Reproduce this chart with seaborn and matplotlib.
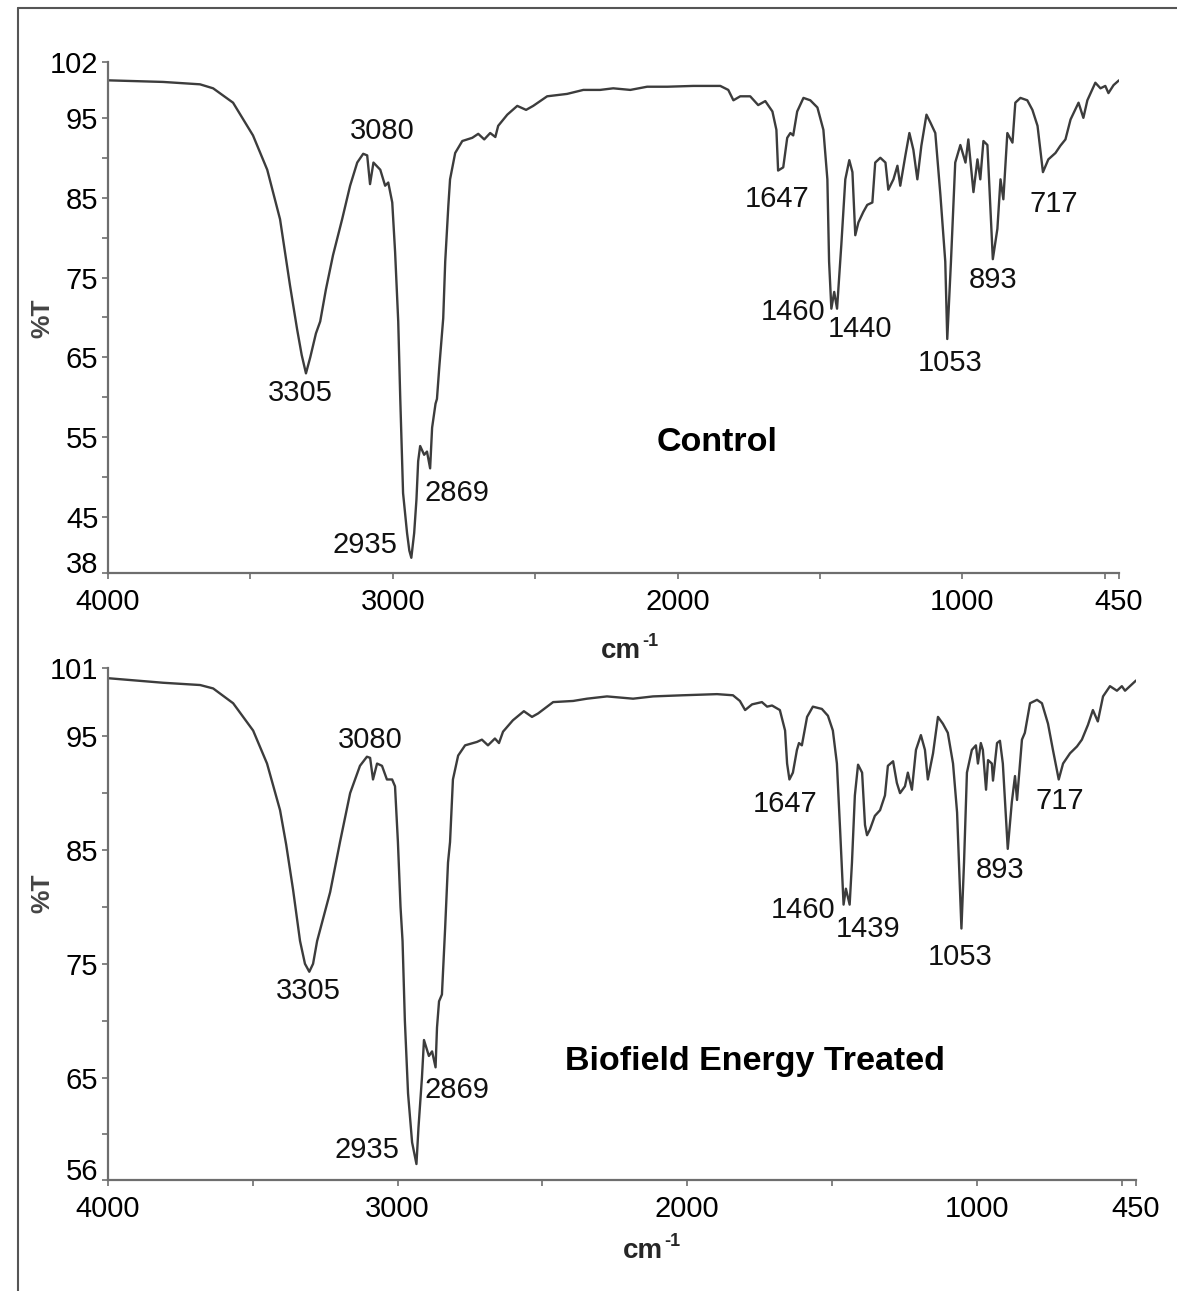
import matplotlib
matplotlib.use("Agg")
import matplotlib.pyplot as plt
import pandas as pd
import seaborn as sns
from matplotlib.lines import Line2D
from matplotlib.ticker import FixedLocator

# --- Control spectrum: wavenumber (cm-1) and %T
control_wn = [4000, 3807, 3677, 3631, 3561, 3491, 3441, 3396, 3361, 3336, 3320, 3305,
              3290, 3270, 3255, 3235, 3210, 3178, 3150, 3125, 3104, 3090, 3080, 3068,
              3044, 3027, 3016, 3002, 2992, 2981, 2974, 2964, 2950, 2942, 2935, 2925,
              2917, 2911, 2904, 2890, 2880, 2869, 2862, 2850, 2845, 2837, 2823, 2816,
              2805, 2799, 2781, 2756, 2721, 2700, 2679, 2658, 2640, 2630, 2598, 2563,
              2532, 2507, 2458, 2388, 2331, 2272, 2226, 2166, 2107, 2036, 1945, 1850,
              1822, 1804, 1780, 1745, 1717, 1692, 1667, 1653, 1647, 1629, 1615, 1604,
              1594, 1580, 1558, 1534, 1509, 1488, 1474, 1468, 1460, 1450, 1440, 1425,
              1411, 1397, 1386, 1376, 1365, 1348, 1334, 1316, 1306, 1288, 1270, 1260,
              1242, 1228, 1218, 1200, 1186, 1172, 1158, 1144, 1126, 1112, 1095, 1077,
              1060, 1053, 1040, 1025, 1007, 989, 979, 961, 947, 937, 926, 912, 902,
              893, 877, 866, 856, 842, 824, 814, 796, 772, 754, 736, 717, 698, 673,
              656, 638, 620, 592, 575, 561, 533, 515, 498, 487, 469, 450]
control_t = [99.7, 99.5, 99.2, 98.7, 96.9, 92.8, 88.5, 82.3, 74.0, 68.5, 65.3, 63.0,
             65.0, 68.0, 69.5, 73.5, 77.8, 82.3, 86.5, 89.4, 90.5, 90.3, 86.7, 89.4,
             88.5, 86.5, 86.9, 84.4, 78.2, 69.5, 60.0, 48.0, 43.0, 40.8, 39.9, 43.0,
             47.2, 52.0, 53.9, 52.8, 53.2, 51.1, 56.2, 59.2, 59.8, 63.7, 69.9, 77.0,
             84.0, 87.3, 90.6, 92.1, 92.5, 93.0, 92.3, 93.1, 92.6, 94.0, 95.4, 96.5,
             96.0, 96.5, 97.7, 98.0, 98.5, 98.5, 98.7, 98.5, 98.9, 98.9, 99.0, 99.0,
             98.5, 97.2, 97.7, 97.7, 96.6, 97.1, 95.8, 93.5, 88.4, 88.8, 92.5, 93.1,
             92.8, 95.8, 97.5, 97.2, 96.3, 93.5, 87.3, 77.0, 71.1, 73.2, 71.1, 79.1,
             87.3, 89.7, 88.2, 80.3, 81.9, 83.2, 84.1, 84.4, 89.4, 90.0, 89.4, 86.0,
             87.3, 89.0, 86.5, 90.3, 93.1, 91.0, 87.3, 91.5, 95.4, 94.4, 93.1, 85.3,
             77.0, 67.3, 77.0, 89.4, 91.6, 89.4, 92.3, 85.7, 89.8, 87.3, 92.1, 91.6, 84.0,
             77.3, 81.1, 87.3, 84.8, 93.1, 91.9, 96.9, 97.5, 97.2, 96.0, 94.0, 88.2, 89.8, 90.6,
             91.5, 92.3, 94.8, 96.9, 95.0, 97.2, 99.4, 98.7, 99.0, 98.1, 99.1, 99.7]

# --- Biofield Energy Treated spectrum
treated_wn = [4000, 3810, 3682, 3637, 3568, 3499, 3451, 3406, 3385, 3361, 3337, 3320,
              3305, 3292, 3278, 3233, 3199, 3164, 3130, 3106, 3095, 3085, 3071, 3054,
              3037, 3019, 3009, 2999, 2990, 2983, 2975, 2964, 2950, 2935, 2928, 2916,
              2909, 2892, 2881, 2869, 2864, 2857, 2847, 2836, 2826, 2819, 2809, 2791,
              2767, 2726, 2709, 2688, 2664, 2650, 2636, 2602, 2564, 2536, 2515, 2463,
              2394, 2346, 2277, 2187, 2118, 2015, 1897, 1842, 1818, 1800, 1776, 1742,
              1724, 1707, 1680, 1662, 1655, 1647, 1635, 1621, 1614, 1604, 1586, 1566,
              1535, 1514, 1497, 1483, 1472, 1460, 1452, 1439, 1431, 1421, 1410, 1396,
              1386, 1379, 1369, 1352, 1334, 1317, 1307, 1289, 1276, 1265, 1248, 1238,
              1224, 1210, 1193, 1179, 1169, 1151, 1134, 1117, 1100, 1082, 1068, 1053,
              1044, 1034, 1017, 1003, 996, 986, 979, 968, 961, 948, 944, 930, 920, 910,
              893, 879, 868, 861, 844, 834, 816, 792, 775, 754, 737, 717, 702, 678, 654,
              637, 616, 599, 582, 564, 540, 516, 499, 488, 450]
treated_t = [100.1, 99.7, 99.5, 99.2, 97.9, 95.5, 92.6, 88.5, 85.5, 81.5, 77.0, 75.0,
             74.3, 75.0, 77.0, 81.3, 85.7, 90.0, 92.4, 93.2, 93.1, 91.2, 92.6, 92.4,
             91.2, 91.2, 90.6, 85.7, 80.0, 77.0, 70.0, 63.6, 59.3, 57.4, 60.6, 65.0,
             68.3, 66.9, 67.3, 65.9, 69.4, 71.7, 72.3, 78.1, 83.9, 85.7, 91.2, 93.3,
             94.2, 94.5, 94.7, 94.2, 94.8, 94.4, 95.4, 96.4, 97.2, 96.7, 97.0, 98.0,
             98.1, 98.3, 98.5, 98.3, 98.5, 98.6, 98.7, 98.6, 98.1, 97.3, 97.8, 98.0,
             97.6, 97.7, 97.3, 95.5, 92.6, 91.2, 91.8, 93.8, 94.4, 94.2, 96.7, 97.6,
             97.4, 96.8, 95.5, 92.6, 86.8, 80.2, 81.6, 80.2, 83.9, 89.8, 92.5, 91.8,
             87.2, 86.3, 86.8, 88.0, 88.5, 89.8, 92.4, 92.8, 90.9, 90.0, 90.6, 91.8,
             90.3, 93.8, 95.1, 93.8, 91.2, 93.5, 96.7, 96.1, 95.3, 92.6, 88.3, 78.1,
             83.9, 91.8, 93.8, 94.2, 92.6, 94.4, 93.8, 90.3, 92.9, 92.6, 91.1, 94.4, 94.6, 92.6,
             85.1, 89.2, 91.5, 89.4, 94.7, 95.3, 97.9, 98.2, 97.9, 96.1, 93.8, 91.2, 92.6, 93.5, 94.1,
             94.7, 96.0, 97.3, 96.3, 98.5, 99.4, 99.0, 99.4, 99.0, 99.9]

# peak annotations (text, x, y in data units)
control_peaks = ["3080", "3305", "2935", "2869", "1647", "1460", "1440", "1053", "893", "717"]
control_peak_x = [3037, 3326, 3097, 2774, 1650, 1594, 1358, 1042, 891, 680]
control_peak_y = [93.4, 60.5, 41.5, 48.0, 84.8, 70.7, 68.5, 64.3, 74.7, 84.2]

treated_peaks = ["3080", "3305", "2935", "2869", "1647", "1460", "1439", "1053", "893", "717"]
treated_peak_x = [3095, 3309, 3106, 2795, 1662, 1600, 1376, 1058, 920, 713]
treated_peak_y = [94.7, 72.6, 58.6, 63.9, 89.0, 79.7, 78.1, 75.6, 83.2, 89.3]

x_ticks = [4000, 3000, 2000, 1000, 450]
x_minor = [3500, 2500, 1500, 500]
control_yticks = [38, 45, 55, 65, 75, 85, 95, 102]
control_yminor = [50, 60, 70, 80, 90]
treated_yticks = [56, 65, 75, 85, 95, 101]
treated_yminor = [60, 70, 80, 90]

sns.set_style("ticks")
plt.rcParams["font.family"] = ["Liberation Sans", "DejaVu Sans"]

LINE = "#3c3c3c"
AXC = "#6e6e6e"
NUM_SIZE = 21

fig = plt.figure(figsize=(11.77, 12.91), dpi=100)
ax_top = fig.add_axes([0.0918, 0.5562, 0.8589, 0.3958])
ax_bot = fig.add_axes([0.0918, 0.0860, 0.8734, 0.3966])

panels = [
    (ax_top, control_wn, control_t, (38, 102), control_yticks, control_yminor,
     control_peaks, control_peak_x, control_peak_y, "Control", (1861, 54.3)),
    (ax_bot, treated_wn, treated_t, (56, 101), treated_yticks, treated_yminor,
     treated_peaks, treated_peak_x, treated_peak_y, "Biofield Energy Treated", (1766, 66.4)),
]

for ax, wn, tr, ylim, yt, ym, labels, lx, ly, title, tpos in panels:
    df = pd.DataFrame({"wn": wn, "T": tr})
    sns.lineplot(data=df, x="wn", y="T", sort=False, ax=ax, color=LINE, linewidth=1.7)
    ax.set_xlim(4000, 450)
    ax.set_ylim(*ylim)
    ax.set_xticks(x_ticks)
    ax.set_xticklabels([str(v) for v in x_ticks])
    ax.xaxis.set_minor_locator(FixedLocator(x_minor))
    ax.set_yticks(yt)
    ax.set_yticklabels([str(v) for v in yt])
    ax.yaxis.set_minor_locator(FixedLocator(ym))
    ax.set_xlabel("")
    ax.set_ylabel("")
    for s in ["top", "right"]:
        ax.spines[s].set_visible(False)
    for s in ["left", "bottom"]:
        ax.spines[s].set_color(AXC)
        ax.spines[s].set_linewidth(1.6)
    ax.tick_params(which="both", direction="out", length=4, width=1.2, color=AXC)
    ax.tick_params(axis="y", which="major", labelsize=NUM_SIZE, pad=3, labelcolor="black")
    ax.tick_params(axis="x", which="major", labelsize=NUM_SIZE, pad=7, labelcolor="black")
    # lowest y label sits just above the x axis, as in the original
    ax.get_yticklabels()[0].set_verticalalignment("baseline")
    for txt, x, y in zip(labels, lx, ly):
        ax.text(x, y, txt, ha="center", va="center", fontsize=NUM_SIZE, color="#111111")
    ax.text(tpos[0], tpos[1], title, ha="center", va="center", fontsize=24.5,
            fontweight="bold", color="black")

# axis titles
for ybase, xr, ytxt in [(0.4903, 0.5446, 0.7537), (0.0256, 0.5633, 0.3083)]:
    fig.text(xr, ybase, "cm", ha="right", va="baseline", fontsize=20, fontweight="bold")
    fig.text(xr + 0.001, ybase + 0.0093, "-1", ha="left", va="baseline", fontsize=13,
             fontweight="bold")
    fig.text(0.0357, ytxt, "%T", rotation=90, ha="center", va="center", fontsize=19,
             fontweight="bold", color="#444444")

# outer frame (left and top edges visible)
bx, by = 18 / 1177, 1 - 8 / 1291
fig.add_artist(Line2D([bx, bx], [0, by], color="#555555", linewidth=1.5))
fig.add_artist(Line2D([bx, 1], [by, by], color="#555555", linewidth=1.5))

fig.savefig("out.png", dpi=100)
